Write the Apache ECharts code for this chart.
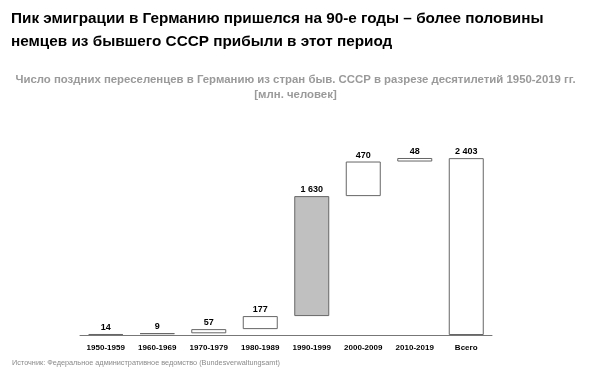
<!DOCTYPE html>
<html><head><meta charset="utf-8">
<script src="https://cdn.jsdelivr.net/npm/echarts@6/dist/echarts.min.js"></script>
<style>html,body{margin:0;padding:0;background:#fff}#c{width:591px;height:370px}</style>
</head><body><div id="c"></div>
<script>
const categories = ['1950-1959','1960-1969','1970-1979','1980-1989','1990-1999','2000-2009','2010-2019','Всего'];
const values = [14, 9, 57, 177, 1630, 470, 48, 2403];
const isTotal = [false, false, false, false, false, false, false, true];
const highlightIndex = 4;

const base = [];
let acc = 0;
values.forEach((v, i) => {
  if (isTotal[i]) { base.push(0); } else { base.push(acc); acc += v; }
});
const fmt = v => String(v).replace(/\B(?=(\d{3})+(?!\d))/g, ' ');

const chart = echarts.init(document.getElementById('c'), null, {renderer: 'canvas'});
chart.setOption({
  animation: false,
  backgroundColor: '#fff',
  title: [
    {text: 'Пик эмиграции в Германию пришелся на 90-е годы – более половины\nнемцев из бывшего СССР прибыли в этот период',
     left: 6, top: 2,
     textStyle: {fontFamily: 'Liberation Sans', fontSize: 15.3, fontWeight: 'bold', color: '#000', lineHeight: 23}},
    {text: 'Число поздних переселенцев в Германию из стран быв. СССР в разрезе десятилетий 1950-2019 гг.\n[млн. человек]',
     left: 'center', top: 67,
     textStyle: {fontFamily: 'Liberation Sans', fontSize: 11.4, fontWeight: 'bold', color: '#9a9a9a', lineHeight: 15.5, align: 'center'}},
    {text: 'Источник: Федеральное административное ведомство (Bundesverwaltungsamt)',
     left: 7, top: 354,
     textStyle: {fontFamily: 'Liberation Sans', fontSize: 7.3, fontWeight: 'normal', color: '#8a8a8a'}}
  ],
  grid: {left: 80, right: 99, top: 151, bottom: 35},
  xAxis: {
    type: 'category', data: categories,
    axisLine: {lineStyle: {color: '#777', width: 1}},
    axisTick: {show: false},
    axisLabel: {fontFamily: 'Liberation Sans', fontSize: 8, fontWeight: 'bold', color: '#000', margin: 9}
  },
  yAxis: {type: 'value', min: 0, max: 2500, show: false, splitLine: {show: false}},
  series: [
    {type: 'bar', stack: 'w', data: base, barWidth: 35,
     itemStyle: {color: 'transparent', borderColor: 'transparent'}, silent: true},
    {type: 'bar', stack: 'w', barWidth: 35,
     data: values.map((v, i) => ({value: v, itemStyle: {color: i === highlightIndex ? '#c0c0c0' : '#fff'}})),
     itemStyle: {borderColor: '#666', borderWidth: 1},
     label: {show: true, position: 'top', distance: 2, formatter: p => fmt(p.value),
       fontFamily: 'Liberation Sans', fontSize: 9, fontWeight: 'bold', color: '#000'}}
  ]
});
</script></body></html>
